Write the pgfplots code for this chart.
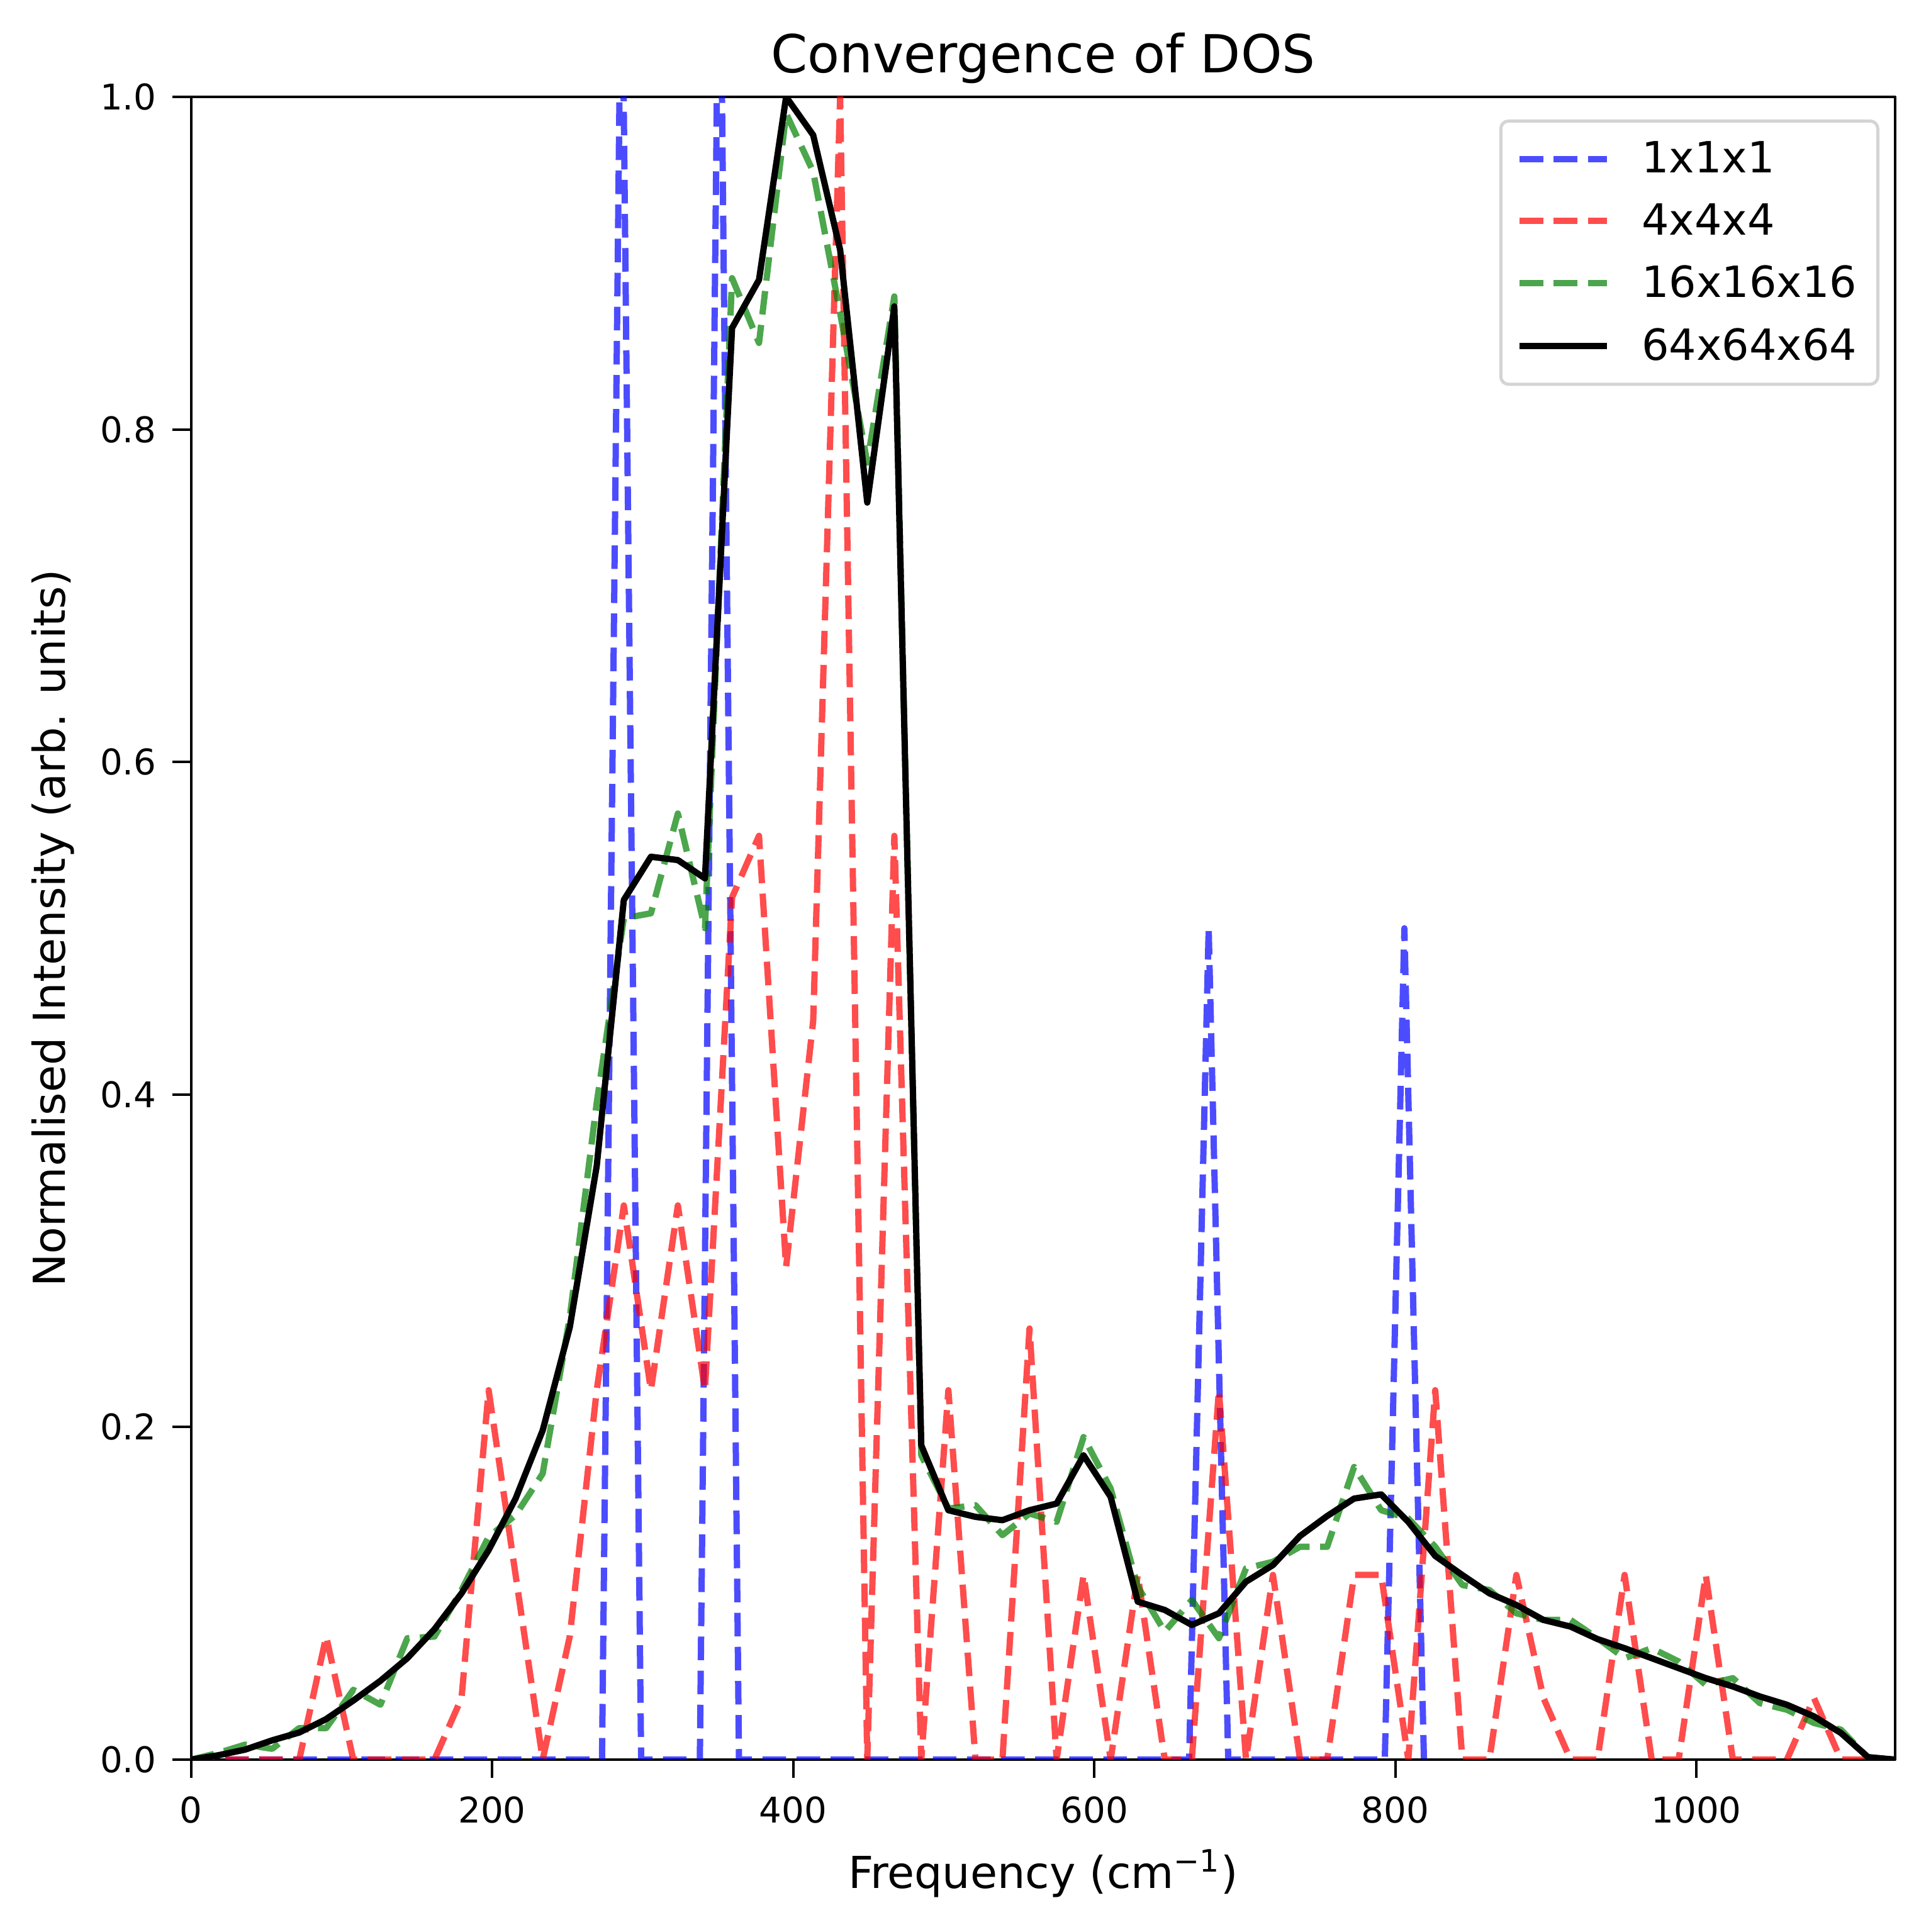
\documentclass[border=0pt]{standalone}
\usepackage{pgfplots}
\pgfplotsset{compat=1.18}
\usepackage{pgfplotstable}
\usepackage{fontspec}
\setmainfont{DejaVu Sans}

\pgfplotstableread{
x red green black
0 0 0 0
18.0 0 0.004 0.0026
35.9 0 0.009 0.006
53.9 0 0.0065 0.0116
71.9 0 0.019 0.0163
89.8 0.0741 0.019 0.0244
107.8 0 0.042 0.0355
125.8 0 0.033 0.0474
143.7 0 0.073 0.061
161.7 0 0.074 0.0784
179.7 0.037 0.102 0.100
197.7 0.2222 0.134 0.126
215.6 0.1111 0.147 0.157
233.6 0 0.172 0.198
251.6 0.0741 0.266 0.26
269.5 0.2222 0.395 0.357
287.5 0.3333 0.506 0.517
305.5 0.2222 0.509 0.543
323.4 0.3333 0.569 0.541
341.4 0.2222 0.500 0.530
359.4 0.5185 0.891 0.861
377.3 0.5556 0.852 0.890
395.3 0.2963 0.99 1.0
413.3 0.4444 0.955 0.977
431.2 1.0 0.87 0.908
449.2 0 0.78 0.756
467.2 0.5556 0.88 0.874
485.1 0 0.183 0.189
503.1 0.2222 0.151 0.150
521.1 0 0.153 0.146
539.0 0 0.135 0.144
557.0 0.2593 0.148 0.150
575.0 0 0.143 0.154
592.9 0.1111 0.194 0.183
610.9 0 0.163 0.158
628.9 0.1111 0.104 0.095
646.8 0 0.077 0.090
664.8 0 0.096 0.081
682.8 0.2222 0.073 0.088
700.8 0 0.115 0.107
718.7 0.1111 0.119 0.117
736.7 0 0.128 0.1345
754.7 0 0.128 0.1465
772.6 0.1111 0.176 0.157
790.6 0.1111 0.150 0.1595
808.6 0 0.145 0.143
826.5 0.2222 0.128 0.1225
844.5 0 0.105 0.111
862.5 0 0.102 0.100
880.4 0.1111 0.088 0.093
898.4 0.037 0.084 0.084
916.4 0 0.084 0.080
934.3 0 0.073 0.0725
952.3 0.1111 0.061 0.067
970.3 0 0.067 0.061
988.2 0 0.059 0.055
1006.2 0.1111 0.045 0.049
1024.2 0 0.049 0.044
1042.1 0 0.034 0.038
1060.1 0 0.030 0.033
1078.1 0.037 0.022 0.026
1096.0 0 0.018 0.016
1114.0 0 0.001 0.0015
1132.0 0 0 0
}\dataA

\pgfplotstableread{
x y
0 0
273 0
286 1.12
299 0
338 0
351 1.15
364 0
663 0
676 0.5
689 0
793 0
806 0.5
819 0
}\dataB

\begin{document}
\begin{tikzpicture}
\begin{axis}[
  name=ax,
  scale only axis,
  width=650pt, height=634.3pt,
  xmin=0, xmax=1132, ymin=0, ymax=1,
  axis line style={line width=1pt},
  tick align=outside,
  xtick pos=bottom, ytick pos=left,
  major tick length=7pt,
  every tick/.style={black, line width=1pt},
  xtick={0,200,400,600,800,1000},
  ytick={0,0.2,0.4,0.6,0.8,1.0},
  /pgf/number format/assume math mode=true,
  /pgf/number format/1000 sep={},
  yticklabel style={/pgf/number format/fixed, /pgf/number format/fixed zerofill, /pgf/number format/precision=1},
  tick label style={font=\fontsize{13.5}{16}\selectfont, inner sep=0pt},
  xticklabel style={anchor=north, yshift=-7pt},
  yticklabel style={anchor=east, xshift=-6pt},
  xlabel={Frequency (cm\textsuperscript{−1})},
  ylabel={Normalised Intensity (arb. units)},
  title={Convergence of DOS},
  every axis x label/.style={at={(axis description cs:0.5,-0.07735)}, anchor=base, font=\fontsize{16.8}{20}\selectfont},
  every axis y label/.style={at={(axis description cs:-0.07385,0.5)}, rotate=90, anchor=base, font=\fontsize{16.8}{20}\selectfont},
  every axis title/.style={at={(axis description cs:0.5,1)}, anchor=base, yshift=9.2pt, font=\fontsize{20}{24}\selectfont},
  legend cell align=left,
  legend style={at={(axis description cs:1,1)}, anchor=north east, xshift=-6pt, yshift=-8.6pt,
    draw=black!17, line width=1.2pt, rounded corners=3pt, fill=white,
    font=\fontsize{16.4}{19.7}\selectfont, inner xsep=6pt, inner ysep=5.8pt, row sep=6.2pt, column sep=10pt},
  legend image code/.code={\draw[#1] (0pt,0pt) -- (33.4pt,0pt);},
  line join=round,
]
\addplot[blue, draw opacity=0.7, line width=2.4pt, dash pattern=on 9pt off 4pt] table[x=x, y=y] {\dataB};
\addlegendentry{1x1x1}
\addplot[red, draw opacity=0.7, line width=2.4pt, dash pattern=on 9pt off 4pt] table[x=x, y=red] {\dataA};
\addlegendentry{4x4x4}
\addplot[green!50!black, draw opacity=0.7, line width=2.4pt, dash pattern=on 9pt off 4pt] table[x=x, y=green] {\dataA};
\addlegendentry{16x16x16}
\addplot[black, line width=2.4pt] table[x=x, y=black] {\dataA};
\addlegendentry{64x64x64}
\end{axis}
\pgfresetboundingbox
\path[use as bounding box] ([xshift=-72.86pt,yshift=-65.76pt]ax.south west) rectangle ([xshift=13.68pt,yshift=36.96pt]ax.north east);
\end{tikzpicture}
\end{document}
